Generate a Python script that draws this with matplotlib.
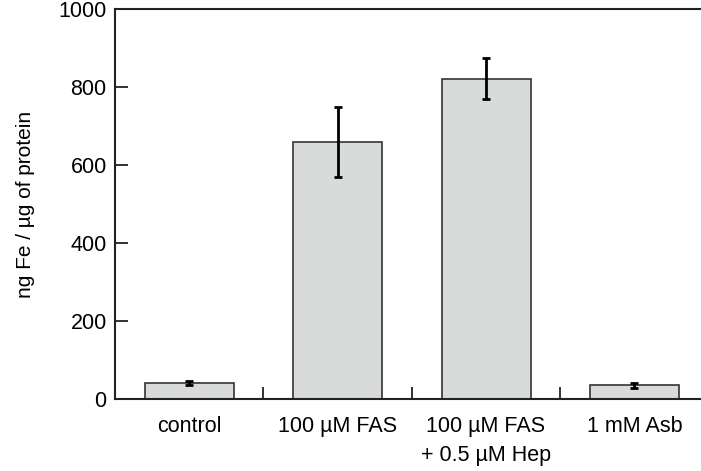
import matplotlib
matplotlib.use("Agg")
import matplotlib.pyplot as plt
import numpy as np

plt.rcParams['font.family'] = ['Liberation Sans', 'DejaVu Sans']

# data
categories = ["control", "100 \u00b5M FAS", "100 \u00b5M FAS\n+ 0.5 \u00b5M Hep", "1 mM Asb"]
iron = [42, 660, 822, 35]
iron_err = [5, 90, 52, 7]
yticks = [0, 200, 400, 600, 800, 1000]

fig = plt.figure(figsize=(7.01, 4.71), dpi=100)
ax = fig.add_axes([0.164, 0.153, 0.847, 0.827])

x = np.arange(len(categories))
ax.bar(x, iron, width=0.6, color="#d9dbdb", edgecolor="#333333", linewidth=1.2, zorder=2)
ax.errorbar(x, iron, yerr=iron_err, fmt="none", ecolor="black", elinewidth=2.0,
            capsize=3.2, capthick=2.0, zorder=3)

ax.set_xlim(-0.5, len(categories) - 0.5)
ax.set_ylim(0, 1000)
ax.set_yticks(yticks)
ax.set_yticklabels([str(v) for v in yticks], fontsize=15.5)

# category labels centred, ticks between categories
ax.set_xticks(x)
ax.set_xticklabels(categories, fontsize=15.5, linespacing=1.55, va="top")
ax.tick_params(axis="x", which="major", length=0, pad=12)
ax.set_xticks(x[:-1] + 0.5, minor=True)
ax.tick_params(axis="x", which="minor", direction="in", length=9, width=1.3, color="#222222")
ax.tick_params(axis="y", direction="in", length=9, width=1.3, color="#222222", pad=6)

for s in ax.spines.values():
    s.set_linewidth(1.5)
    s.set_color("#222222")

ax.set_ylabel("ng Fe / \u00b5g of protein", fontsize=15, labelpad=17)

fig.savefig("out.png", dpi=100)
